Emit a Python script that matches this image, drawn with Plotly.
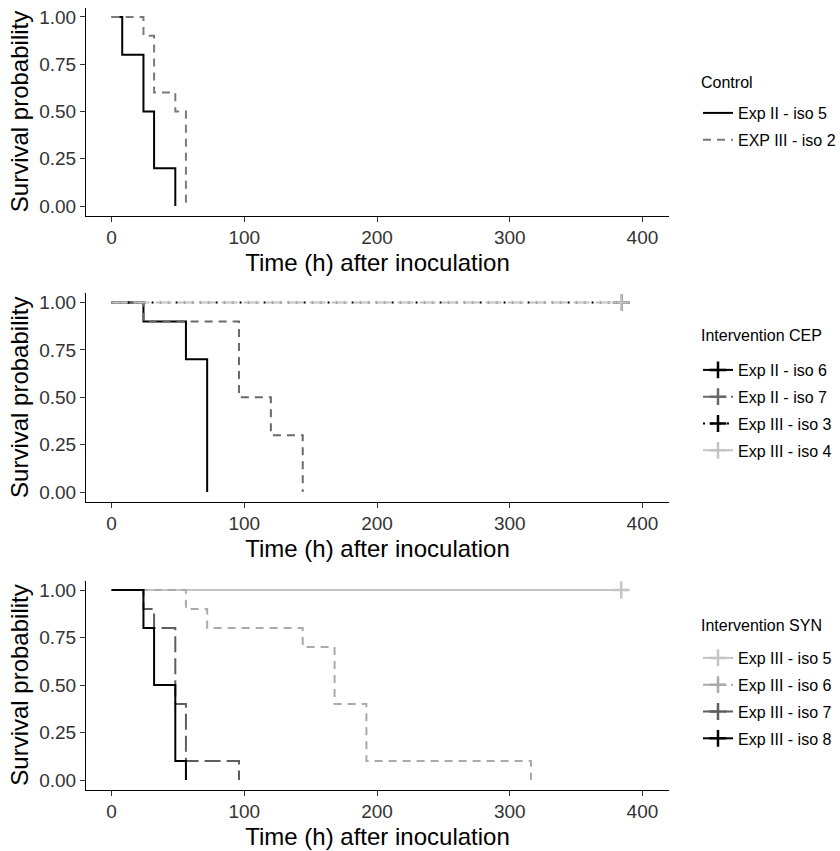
import plotly.graph_objects as go

# ---------------- data ----------------
x_ticks = [0, 100, 200, 300, 400]
y_ticks = [0.0, 0.25, 0.50, 0.75, 1.00]
x_title = "Time (h) after inoculation"
y_title = "Survival probability"

# Panel 1: Control
ctrl_names = ["Exp II - iso 5", "EXP III - iso 2"]
ctrl_iso5_t = [0, 8, 24, 32, 48]
ctrl_iso5_s = [1.0, 0.8, 0.5, 0.2, 0.0]
ctrl_iso2_t = [0, 24, 32, 48, 56]
ctrl_iso2_s = [1.0, 0.9, 0.6, 0.5, 0.0]

# Panel 2: Intervention CEP
cep_names = ["Exp II - iso 6", "Exp II - iso 7", "Exp III - iso 3", "Exp III - iso 4"]
cep_iso6_t = [0, 24, 56, 72]
cep_iso6_s = [1.0, 0.9, 0.7, 0.0]
cep_iso7_t = [0, 24, 96, 120, 144]
cep_iso7_s = [1.0, 0.9, 0.5, 0.3, 0.0]
cep_iso3_t = [0, 384]
cep_iso3_s = [1.0, 1.0]
cep_iso4_t = [0, 384]
cep_iso4_s = [1.0, 1.0]
cep_censored = [False, False, True, True]

# Panel 3: Intervention SYN
syn_names = ["Exp III - iso 5", "Exp III - iso 6", "Exp III - iso 7", "Exp III - iso 8"]
syn_iso5_t = [0, 384]
syn_iso5_s = [1.0, 1.0]
syn_iso6_t = [0, 56, 72, 144, 168, 192, 316]
syn_iso6_s = [1.0, 0.9, 0.8, 0.7, 0.4, 0.1, 0.0]
syn_iso7_t = [0, 24, 32, 48, 56, 96]
syn_iso7_s = [1.0, 0.9, 0.8, 0.4, 0.1, 0.0]
syn_iso8_t = [0, 24, 32, 48, 56]
syn_iso8_s = [1.0, 0.8, 0.5, 0.1, 0.0]
syn_censored = [True, False, False, False]

panel_titles = ["Control", "Intervention CEP", "Intervention SYN"]

# ---------------- styles ----------------
FONT = "Liberation Sans, Arial, sans-serif"
ctrl_styles = [("#000000", "solid"), ("#7a7a7a", "8px,6px")]
cep_styles = [("#000000", "solid"), ("#6a6a6a", "8px,6px"),
              ("#000000", "2px,6px"), ("#c4c4c4", "16px,6px")]
syn_styles = [("#c4c4c4", "solid"), ("#aaaaaa", "8px,6px"),
              ("#5e5e5e", "16px,6px"), ("#000000", "solid")]

W, H = 840, 851
ML, MR, MT, MB = 86, 171, 7, 61
PW = W - ML - MR
PH = H - MT - MB


def py(p):
    return (H - MB - p) / PH


def cx(p):
    return p / W


def cy(p):
    return 1 - p / H


panels_px = [(7.5, 215.5), (293, 501.5), (580.5, 789.5)]
legend_title_px = [83, 336, 625]
legend_items_top_px = [96, 353, 641]

fig = go.Figure()


def add_curve(t, s, name, style, k, censored, with_marker):
    color, dash = style
    ax = "" if k == 0 else str(k + 1)
    tr = dict(
        x=t, y=s, name=name, line=dict(color=color, width=2, dash=dash, shape="hv"),
        xaxis="x" + ax, yaxis="y" + ax, legend="legend" + ax,
        legendgroup=name + str(k), hoverinfo="x+y+name",
    )
    if with_marker:
        tr["mode"] = "lines+markers"
        tr["marker"] = dict(symbol="cross-thin", size=12, color=color,
                            line=dict(color=color, width=2.5))
        tr["selectedpoints"] = [len(t) - 1] if censored else []
        tr["selected"] = dict(marker=dict(opacity=1))
        tr["unselected"] = dict(marker=dict(opacity=0))
    else:
        tr["mode"] = "lines"
    fig.add_trace(go.Scatter(**tr))


add_curve(ctrl_iso5_t, ctrl_iso5_s, ctrl_names[0], ctrl_styles[0], 0, False, False)
add_curve(ctrl_iso2_t, ctrl_iso2_s, ctrl_names[1], ctrl_styles[1], 0, False, False)

cep_data = [(cep_iso6_t, cep_iso6_s), (cep_iso7_t, cep_iso7_s),
            (cep_iso3_t, cep_iso3_s), (cep_iso4_t, cep_iso4_s)]
for i, (t, s) in enumerate(cep_data):
    add_curve(t, s, cep_names[i], cep_styles[i], 1, cep_censored[i], True)

syn_data = [(syn_iso5_t, syn_iso5_s), (syn_iso6_t, syn_iso6_s),
            (syn_iso7_t, syn_iso7_s), (syn_iso8_t, syn_iso8_s)]
for i, (t, s) in enumerate(syn_data):
    add_curve(t, s, syn_names[i], syn_styles[i], 2, syn_censored[i], True)

layout = dict(
    width=W, height=H, margin=dict(l=ML, r=MR, t=MT, b=MB, autoexpand=False),
    paper_bgcolor="white", plot_bgcolor="white",
    font=dict(family=FONT, color="#000000"),
    showlegend=True,
    annotations=[],
)

for k in range(3):
    ax = "" if k == 0 else str(k + 1)
    top, bot = panels_px[k]
    layout["xaxis" + ax] = dict(
        domain=[0, 1], anchor="y" + ax, range=[-19.3, 420],
        tickvals=x_ticks, ticktext=[str(v) for v in x_ticks],
        showline=True, linecolor="#000000", linewidth=1,
        ticks="outside", ticklen=5, tickwidth=1, tickcolor="#333333",
        tickfont=dict(size=19, color="#333333", family=FONT),
        showgrid=False, zeroline=False, automargin=False,
        title=dict(text=x_title, font=dict(size=24, color="#000000", family=FONT), standoff=6),
    )
    layout["yaxis" + ax] = dict(
        domain=[py(bot), py(top)], anchor="x" + ax, range=[-0.05, 1.05],
        tickvals=y_ticks, tickformat=".2f",
        showline=True, linecolor="#000000", linewidth=1,
        ticks="outside", ticklen=5, tickwidth=1, tickcolor="#333333",
        tickfont=dict(size=19, color="#333333", family=FONT),
        showgrid=False, zeroline=False, automargin=False,
        title=dict(text=y_title, font=dict(size=24, color="#000000", family=FONT), standoff=3),
    )
    layout["legend" + ax] = dict(
        xref="container", yref="container",
        x=cx(698), xanchor="left", y=cy(legend_items_top_px[k]), yanchor="top",
        font=dict(size=16, family=FONT, color="#000000"),
        bgcolor="rgba(0,0,0,0)", tracegroupgap=3, traceorder="grouped",
    )
    # legend title as text placed above the legend entries
    layout["annotations"].append(dict(
        text=panel_titles[k], xref="paper", yref="paper",
        x=(699 - ML) / PW, y=py(legend_title_px[k]),
        xanchor="left", yanchor="middle", showarrow=False,
        font=dict(size=16, family=FONT, color="#000000"),
    ))

fig.update_layout(**layout)
fig.write_html("out.html")
